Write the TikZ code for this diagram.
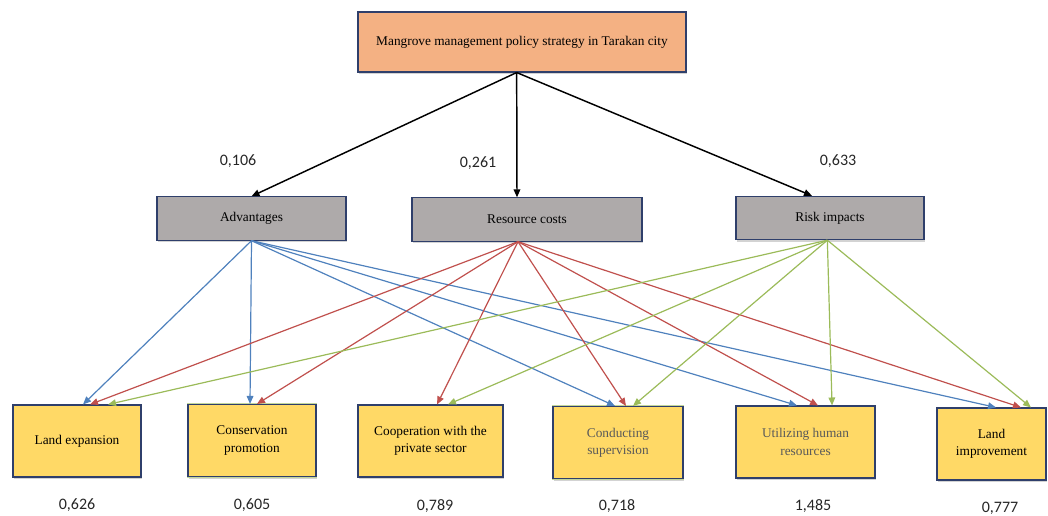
\documentclass[tikz,border=0pt]{standalone}
\usepackage{fontspec}
\setmainfont{Liberation Serif}
\newfontfamily\numfont{Carlito}
\usetikzlibrary{arrows.meta}
\usetikzlibrary{shadows}
\usetikzlibrary{positioning}

\definecolor{orng}{HTML}{F4B183}
\definecolor{gry}{HTML}{AEAAAA}
\definecolor{yel}{HTML}{FFD966}
\definecolor{navy}{HTML}{2F3F6B}
\definecolor{blu}{HTML}{4F81BD}
\definecolor{rd}{HTML}{C0504D}
\definecolor{grn}{HTML}{9BBB59}

\tikzset{
  box/.style={draw=navy, thick, align=center, font=\fontsize{10}{13}\selectfont,
    drop shadow={shadow xshift=1pt, shadow yshift=-1.5pt, opacity=0.35}},
  goal/.style={box, fill=orng, minimum width=246pt, minimum height=45pt},
  crit/.style={box, fill=gry, minimum height=32.5pt},
  alt/.style={box, fill=yel, minimum height=54pt,
    preaction={draw=grn!60, line width=2pt}},
  val/.style={font=\numfont\fontsize{12}{14}\selectfont, text=black!85},
  tip/.style={-{Triangle[length=6pt,width=5pt]}},
}

\begin{document}
\begin{tikzpicture}[x=0.75pt, y=-0.75pt]
      \useasboundingbox (0,0) rectangle (1048,516);

      % goal and criteria
      \node [goal] (goal) at (522,42) {Mangrove management policy strategy in Tarakan city};
      \node [crit, minimum width=141.75pt] (adv) at (251.5,218.5) {Advantages};
      \node [crit, minimum width=172.5pt] (res) at (527,219.5) {Resource costs};
      \node [crit, minimum width=141pt] (risk) at (830,218) {Risk impacts};

      % alternatives
      \node [alt, minimum width=96pt] (le) at (77,441) {Land expansion};
      \node [alt, minimum width=96pt] (cp) at (252,440.5) {Conservation\\promotion};
      \node [alt, minimum width=108.75pt] (co) at (430.5,441) {Cooperation with the\\private sector};
      \node [alt, minimum width=97.5pt, text=black!65] (cs) at (618,442.5) {Conducting\\supervision};
      \node [alt, minimum width=104.25pt, text=black!65] (uh) at (805.5,442) {Utilizing human\\resources};
      \node [alt, minimum width=81.75pt] (li) at (991.5,444) {Land\\improvement};

      % weights
      \node [val] (w1) at (238,161) {0,106};
      \node [val] (w2) at (478,163) {0,261};
      \node [val] (w3) at (838,161) {0,633};
      \node [val] (p1) at (77,505) {0,626};
      \node [val] (p2) at (252,505) {0,605};
      \node [val] (p3) at (435,506) {0,789};
      \node [val] (p4) at (617,506) {0,718};
      \node [val] (p5) at (813,506) {1,485};
      \node [val] (p6) at (1000,508) {0,777};

      \draw [tip, line width=1.1pt] ([xshift=-4pt]goal.south) -- (adv.north);
      \draw [tip, line width=1.1pt] ([xshift=-4pt]goal.south) -- ([xshift=-7.5pt]res.north);
      \draw [tip, line width=1.1pt] ([xshift=-4pt]goal.south) -- ([xshift=-13.5pt]risk.north);

      \foreach \t/\d in {le/4.5, cp/-1.5, cs/-2.25, uh/-6.4, li/3.4}
        \draw [tip, blu, line width=0.9pt] (adv.south) -- ([xshift=\d pt]\t.north);
      \foreach \t/\d in {le/9.75, cp/3.75, co/4.9, cs/6, uh/9.4, li/22.1}
        \draw [tip, rd, line width=0.9pt] ([xshift=-6.75pt]res.south) -- ([xshift=\d pt]\t.north);
      \foreach \t/\d in {le/23.25, co/13.1, cs/11.25, uh/19.9, li/29.6}
        \draw [tip, grn, line width=0.9pt] ([xshift=-2pt]risk.south) -- ([xshift=\d pt]\t.north);
    \end{tikzpicture}
\end{document}
